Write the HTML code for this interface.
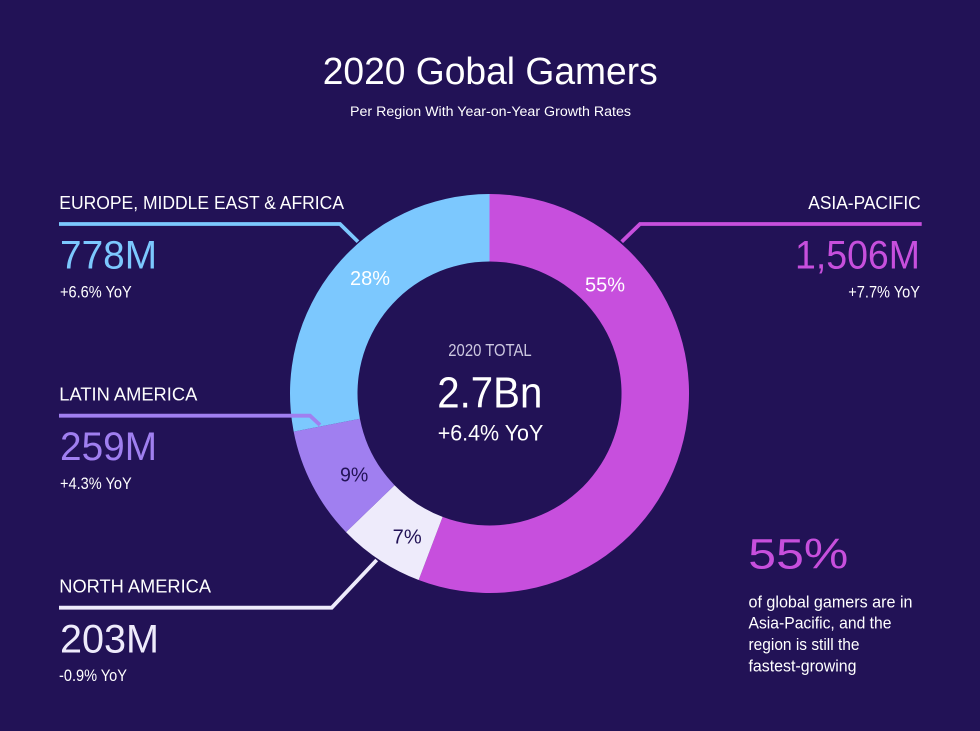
<!DOCTYPE html>
<html>
<head>
<meta charset="utf-8">
<style>
  html,body{margin:0;padding:0;background:#221256;}
  svg{display:block;}
  text{font-family:"Liberation Sans",sans-serif;}
</style>
</head>
<body>
<svg width="980" height="731" viewBox="0 0 980 731" xmlns="http://www.w3.org/2000/svg">
  <rect x="0" y="0" width="980" height="731" fill="#221256"/>

  <!-- Title -->
  <text x="322.7" y="84" font-size="38" fill="#ffffff" textLength="335" lengthAdjust="spacingAndGlyphs">2020 Gobal Gamers</text>
  <text x="350" y="116" font-size="13.5" fill="#ffffff" textLength="281" lengthAdjust="spacingAndGlyphs">Per Region With Year-on-Year Growth Rates</text>

  <!-- Donut -->
  <path d="M489.5,194 A199.5,199.5 0 1 1 418.66,579.99 L442.63,516.89 A132,132 0 1 0 489.5,261.5 Z" fill="#C74FDD"/>
  <path d="M418.66,579.99 A199.5,199.5 0 0 1 346.0,532.09 L394.55,485.2 A132,132 0 0 0 442.63,516.89 Z" fill="#EEEBFB"/>
  <path d="M346.0,532.09 A199.5,199.5 0 0 1 293.67,431.57 L359.93,418.69 A132,132 0 0 0 394.55,485.2 Z" fill="#A07FF0"/>
  <path d="M293.67,431.57 A199.5,199.5 0 0 1 489.5,194 L489.5,261.5 A132,132 0 0 0 359.93,418.69 Z" fill="#7CC8FE"/>

  <!-- Leader lines -->
  <polyline points="59,224 340,224 358,241.7" fill="none" stroke="#7CC8FE" stroke-width="3.8"/>
  <polyline points="59,415.7 310,415.7 320,425" fill="none" stroke="#A07FF0" stroke-width="3.8"/>
  <polyline points="59,607.7 331.7,607.7 376.7,560" fill="none" stroke="#EEEBFB" stroke-width="3.8"/>
  <polyline points="921.7,224 640,224 621.7,241.7" fill="none" stroke="#C74FDD" stroke-width="3.8"/>

  <!-- Percent labels -->
  <text x="350" y="285" font-size="20" fill="#ffffff" textLength="40" lengthAdjust="spacingAndGlyphs">28%</text>
  <text x="585" y="291.7" font-size="20" fill="#ffffff" textLength="40" lengthAdjust="spacingAndGlyphs">55%</text>
  <text x="340" y="481.7" font-size="20" fill="#221256" textLength="28.3" lengthAdjust="spacingAndGlyphs">9%</text>
  <text x="392.7" y="543.3" font-size="20" fill="#221256" textLength="29" lengthAdjust="spacingAndGlyphs">7%</text>

  <!-- Center -->
  <text x="448.3" y="356" font-size="17.5" fill="#cdc8e0" textLength="83.4" lengthAdjust="spacingAndGlyphs">2020 TOTAL</text>
  <text x="437.3" y="407.3" font-size="44" fill="#ffffff" textLength="105" lengthAdjust="spacingAndGlyphs">2.7Bn</text>
  <text x="437.7" y="440.7" font-size="22" fill="#ffffff" textLength="105.6" lengthAdjust="spacingAndGlyphs">+6.4% YoY</text>

  <!-- EMEA -->
  <text x="59.3" y="209" font-size="18.5" fill="#ffffff" textLength="284.7" lengthAdjust="spacingAndGlyphs">EUROPE, MIDDLE EAST &amp; AFRICA</text>
  <text x="60" y="268.3" font-size="40" fill="#7CC8FE" textLength="97" lengthAdjust="spacingAndGlyphs">778M</text>
  <text x="60" y="297.3" font-size="17" fill="#ffffff" textLength="71.7" lengthAdjust="spacingAndGlyphs">+6.6% YoY</text>

  <!-- Latin America -->
  <text x="59.3" y="400.7" font-size="18.5" fill="#ffffff" textLength="138" lengthAdjust="spacingAndGlyphs">LATIN AMERICA</text>
  <text x="60" y="460" font-size="40" fill="#A07FF0" textLength="97" lengthAdjust="spacingAndGlyphs">259M</text>
  <text x="60" y="489" font-size="17" fill="#ffffff" textLength="71.7" lengthAdjust="spacingAndGlyphs">+4.3% YoY</text>

  <!-- North America -->
  <text x="59.3" y="592.7" font-size="18.5" fill="#ffffff" textLength="151.7" lengthAdjust="spacingAndGlyphs">NORTH AMERICA</text>
  <text x="60" y="652.3" font-size="40" fill="#EEEBFB" textLength="99" lengthAdjust="spacingAndGlyphs">203M</text>
  <text x="59" y="681" font-size="17" fill="#ffffff" textLength="68" lengthAdjust="spacingAndGlyphs">-0.9% YoY</text>

  <!-- Asia-Pacific -->
  <text x="808.3" y="209" font-size="18.5" fill="#ffffff" textLength="112.4" lengthAdjust="spacingAndGlyphs">ASIA-PACIFIC</text>
  <text x="795" y="268.3" font-size="40" fill="#C74FDD" textLength="125" lengthAdjust="spacingAndGlyphs">1,506M</text>
  <text x="848.3" y="297.5" font-size="17" fill="#ffffff" textLength="71.7" lengthAdjust="spacingAndGlyphs">+7.7% YoY</text>

  <!-- Callout -->
  <text x="748.3" y="568.3" font-size="43" fill="#C74FDD" textLength="100" lengthAdjust="spacingAndGlyphs">55%</text>
  <text x="748.5" y="607.3" font-size="16.5" fill="#ffffff" textLength="164" lengthAdjust="spacingAndGlyphs">of global gamers are in</text>
  <text x="748.5" y="628.7" font-size="16.5" fill="#ffffff" textLength="143" lengthAdjust="spacingAndGlyphs">Asia-Pacific, and the</text>
  <text x="748.5" y="650" font-size="16.5" fill="#ffffff" textLength="111" lengthAdjust="spacingAndGlyphs">region is still the</text>
  <text x="748.5" y="671.7" font-size="16.5" fill="#ffffff" textLength="108" lengthAdjust="spacingAndGlyphs">fastest-growing</text>
</svg>
</body>
</html>
